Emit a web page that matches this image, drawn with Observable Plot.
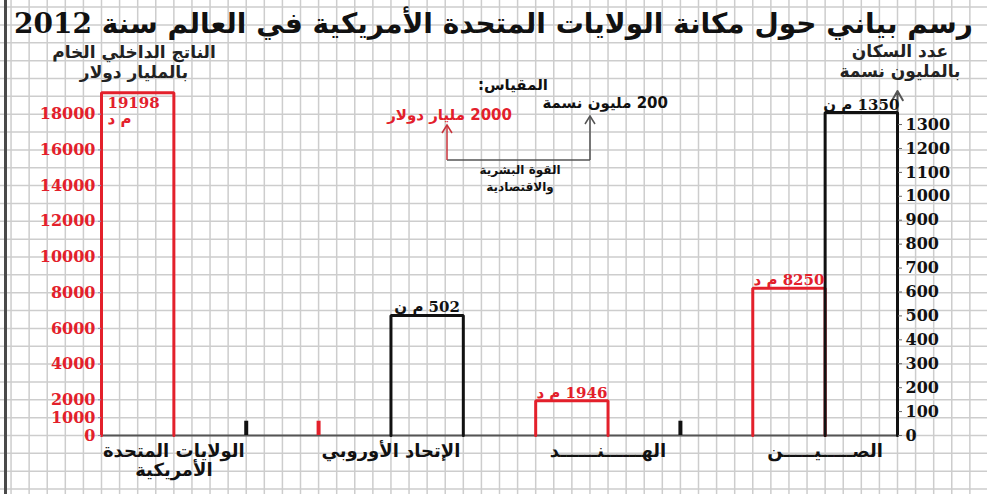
<!DOCTYPE html>
<html lang="ar">
<head>
<meta charset="utf-8">
<script src="https://cdn.jsdelivr.net/npm/d3@7"></script>
<script src="https://cdn.jsdelivr.net/npm/@observablehq/plot@0.6"></script>
<style>
  html, body { margin: 0; padding: 0; background: #fff; }
  #wrap { position: relative; width: 987px; height: 494px; overflow: hidden; background: #fff; }
  #chart { position: absolute; left: 0; top: 0; }
  .ov { position: absolute; white-space: nowrap; font-family: "DejaVu Sans", sans-serif; direction: rtl; color: #111; }
  #title { left: 0; width: 987px; top: 9px; height: 30px; line-height: 30px; text-align: center; font-size: 28px; font-weight: bold; font-family: "DejaVu Serif", "DejaVu Sans", serif; }
  .axt { font-size: 17px; line-height: 20px; text-align: center; width: 240px; font-weight: bold; color: #222; }
  #leftTitle { left: 14px; top: 42px; }
  #rightTitle { left: 780px; top: 41px; }
  .lg { font-weight: bold; font-size: 15px; line-height: 16px; }
  #border { position: absolute; left: 4px; top: 0; width: 3px; height: 494px; background: #4a4a4a; }
</style>
</head>
<body>
<div id="wrap">
  <div id="chart"></div>
  <div id="border"></div>
  <div id="title" class="ov">رسم بياني حول مكانة الولايات المتحدة الأمريكية في العالم سنة 2012</div>
  <div id="leftTitle" class="ov axt">الناتج الداخلي الخام<br>بالمليار دولار</div>
  <div id="rightTitle" class="ov axt">عدد السكان<br>بالمليون نسمة</div>
  <div class="ov lg" style="right:439px; top:77px;">المقياس:</div>
  <div class="ov lg" style="right:319px; top:95px;">200 مليون نسمة</div>
  <div class="ov lg" style="right:475px; top:107px; color:#e3202b;">2000 مليار دولار</div>
  <div class="ov lg" style="left:440px; width:160px; top:162px; font-size:12px; line-height:17px; text-align:center;">القوة البشرية<br>والاقتصادية</div>
  <svg style="position:absolute; left:0; top:0;" width="987" height="494">
    <polyline points="447,160 590,160" fill="none" stroke="#555" stroke-width="1.5"/>
    <line x1="447" y1="160" x2="447" y2="126" stroke="#c8323a" stroke-width="1.5"/>
    <polyline points="442,133 447,125 452,133" fill="none" stroke="#c8323a" stroke-width="1.5"/>
    <line x1="590" y1="160" x2="590" y2="116" stroke="#555" stroke-width="1.5"/>
    <polyline points="585,124 590,116 595,124" fill="none" stroke="#555" stroke-width="1.5"/>
  </svg>
</div>
<script>
// ---- data ----
const countries = ["الولايات المتحدة\nالأمريكية", "الإتحاد الأوروبي", "الهــــــنــــــد", "الصـــــيـــــن"];
const gdp = [19198, null, 1946, 8250];          // الناتج الداخلي الخام (مليار دولار)
const population = [null, 502, null, 1350];     // عدد السكان (مليون نسمة)
const gdpTicks = [0, 1000, 2000, 4000, 6000, 8000, 10000, 12000, 14000, 16000, 18000];
const popTicks = [0, 100, 200, 300, 400, 500, 600, 700, 800, 900, 1000, 1100, 1200, 1300];
const gdpUnit = "م د";
const popUnit = "م ن";

// ---- layout / style ----
const RED = "#e3202b", BLACK = "#111";
const K = 13.4;          // population units -> left-axis units (ratio of the two axis scales)
const STUB = 800;        // height of the unfinished bar stubs (left-axis units)
const X_MAX = 11, Y_MAX = 20000;

const gdpBars = [], popBars = [], stubs = [];
countries.forEach((c, i) => {
  if (gdp[i] != null) gdpBars.push({id: "g" + i, x0: 3 * i, x1: 3 * i + 1, v: gdp[i], raw: gdp[i]});
  else stubs.push({x: 3 * i, color: RED});
  if (population[i] != null) popBars.push({id: "p" + i, x0: 3 * i + 1, x1: 3 * i + 2, v: population[i] * K, raw: population[i]});
  else stubs.push({x: 3 * i + 2, color: BLACK});
});
const outline = bars => bars.flatMap(b => [
  {id: b.id, x: b.x0, y: 0}, {id: b.id, x: b.x0, y: b.v}, {id: b.id, x: b.x1, y: b.v}, {id: b.id, x: b.x1, y: 0}
]);
const rtl = s => "\u202B" + s + "\u202C";

const numFont = "DejaVu Serif, DejaVu Sans, serif";
const gdpTop = gdpBars.filter(d => d.v > Y_MAX * 0.9);
const gdpAbove = gdpBars.filter(d => d.v <= Y_MAX * 0.9);

const chart = Plot.plot({
  width: 987, height: 494,
  marginLeft: 101, marginRight: 90, marginTop: 78, marginBottom: 59,
  x: {domain: [0, X_MAX], axis: null},
  y: {domain: [0, Y_MAX]},
  style: {background: "transparent", overflow: "visible"},
  marks: [
    // graph-paper grid
    Plot.ruleX(d3.range(-1.5, 12.51, 0.25), {y1: -4000, y2: 25000, stroke: "#cdcdcd", strokeWidth: 1.5}),
    Plot.ruleY(d3.range(-4000, 25001, 1000), {x1: -1.5, x2: 12.5, stroke: "#cdcdcd", strokeWidth: 1.5}),
    // x axis line
    Plot.ruleY([0], {x1: 0, x2: X_MAX, stroke: "#555", strokeWidth: 2}),
    // right axis line with arrow
    Plot.arrow([0], {x1: () => X_MAX, y1: () => 0, x2: () => X_MAX, y2: () => 19300, stroke: "#555", strokeWidth: 2, headLength: 8}),
    // bars (open outlines)
    Plot.line(outline(gdpBars), {x: "x", y: "y", z: "id", stroke: RED, strokeWidth: 3, strokeLinejoin: "miter"}),
    Plot.line(outline(popBars), {x: "x", y: "y", z: "id", stroke: BLACK, strokeWidth: 3, strokeLinejoin: "miter"}),
    // unfinished stubs
    Plot.ruleX(stubs, {x: "x", y1: () => 0, y2: () => STUB, stroke: "color", strokeWidth: 4}),
    // axes
    Plot.axisY(gdpTicks, {anchor: "left", tickSize: 3, tickPadding: 3, stroke: "#8888aa", fill: RED,
      fontSize: 16, fontWeight: "bold", fontFamily: numFont, tickFormat: d => String(d), label: null}),
    Plot.axisY(popTicks.map(v => v * K), {anchor: "right", tickSize: 4, tickPadding: 4, stroke: "#666", fill: BLACK,
      fontSize: 16, fontWeight: "bold", fontFamily: numFont, tickFormat: d => String(Math.round(d / K)), label: null}),
    // value labels
    Plot.text(gdpTop, {x: "x0", y: "v", text: d => d.raw + "\n" + gdpUnit, textAnchor: "start", lineAnchor: "top",
      dx: 6, dy: 3, fill: RED, fontSize: 15, fontWeight: "bold", fontFamily: numFont, lineHeight: 1.1}),
    Plot.text(gdpAbove, {x: d => (d.x0 + d.x1) / 2, y: "v", text: d => rtl(d.raw + " " + gdpUnit), lineAnchor: "bottom",
      dy: -3, fill: RED, fontSize: 15, fontWeight: "bold", fontFamily: numFont}),
    Plot.text(popBars, {x: d => (d.x0 + d.x1) / 2, y: "v", text: d => rtl(d.raw + " " + popUnit), lineAnchor: "bottom",
      dy: -3, fill: BLACK, fontSize: 15, fontWeight: "bold", fontFamily: numFont}),
    // country labels
    Plot.text(countries, {x: (d, i) => 3 * i + 1, y: () => 0, text: d => d, lineAnchor: "top", dy: 7,
      fill: BLACK, fontSize: 18, fontWeight: "bold", fontFamily: "DejaVu Sans, sans-serif", lineHeight: 1.1})
  ]
});
document.getElementById("chart").appendChild(chart);
</script>
</body>
</html>
